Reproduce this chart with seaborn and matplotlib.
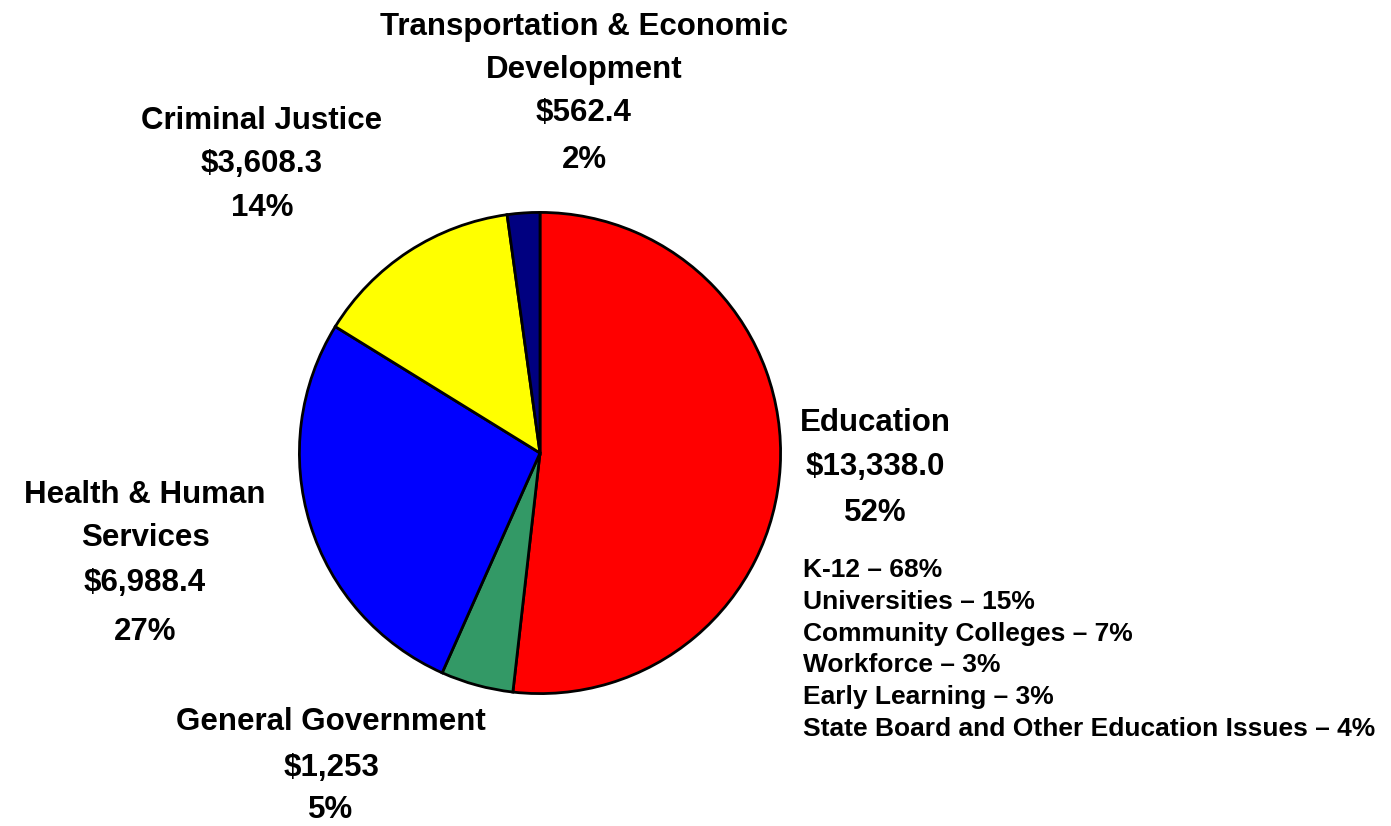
import matplotlib
matplotlib.use("Agg")
import matplotlib.pyplot as plt
import seaborn as sns

categories = ["Education", "General Government", "Health & Human Services",
              "Criminal Justice", "Transportation & Economic Development"]
values = [13338.0, 1253.0, 6988.4, 3608.3, 562.4]
value_labels = ["$13,338.0", "$1,253", "$6,988.4", "$3,608.3", "$562.4"]
pct_labels = ["52%", "5%", "27%", "14%", "2%"]
colors = ["#FF0000", "#339966", "#0000FF", "#FFFF00", "#000080"]

edu_parts = ["K-12", "Universities", "Community Colleges", "Workforce",
             "Early Learning", "State Board and Other Education Issues"]
edu_pcts = ["68%", "15%", "7%", "3%", "3%", "4%"]

sns.set_theme(style="white")
plt.rcParams["font.family"] = ["Liberation Sans", "DejaVu Sans"]

W, H = 1391, 826
fig = plt.figure(figsize=(W / 100, H / 100), dpi=100)
cx, cy, r = 540, 453, 243
ax = fig.add_axes([(cx - r) / W, (H - cy - r) / H, 2 * r / W, 2 * r / H])
ax.pie(values, colors=colors, startangle=90, counterclock=False,
       wedgeprops=dict(edgecolor="black", linewidth=2.0),
       radius=1.0)
ax.set_xlim(-1.01, 1.01)
ax.set_ylim(-1.01, 1.01)
ax.set_aspect("equal")
ax.axis("off")

def put(x, y, s, size=22.5, ha="center"):
    fig.text(x / W, 1 - y / H, s, ha=ha, va="center", fontsize=size,
             fontweight="bold", color="black")

label_lines = {
    0: (["Education"], 875, [423, 467, 513]),
    1: (["General Government"], 331, [722, 768, 810]),
    2: (["Health & Human", "Services"], 145, [495, 538, 583, 632]),
    3: (["Criminal Justice"], 262, [121, 164, 208]),
    4: (["Transportation & Economic", "Development"], 584, [27, 70, 113, 160]),
}
for i, (names, x, ys) in label_lines.items():
    lines = names + [value_labels[i], pct_labels[i]]
    for s, y in zip(lines, ys):
        put(x, y, s)

for k, (p, pc) in enumerate(zip(edu_parts, edu_pcts)):
    put(803, 570 + k * 31.8, f"{p} \u2013 {pc}", size=19, ha="left")

fig.savefig("out.png", dpi=100, facecolor="white")
